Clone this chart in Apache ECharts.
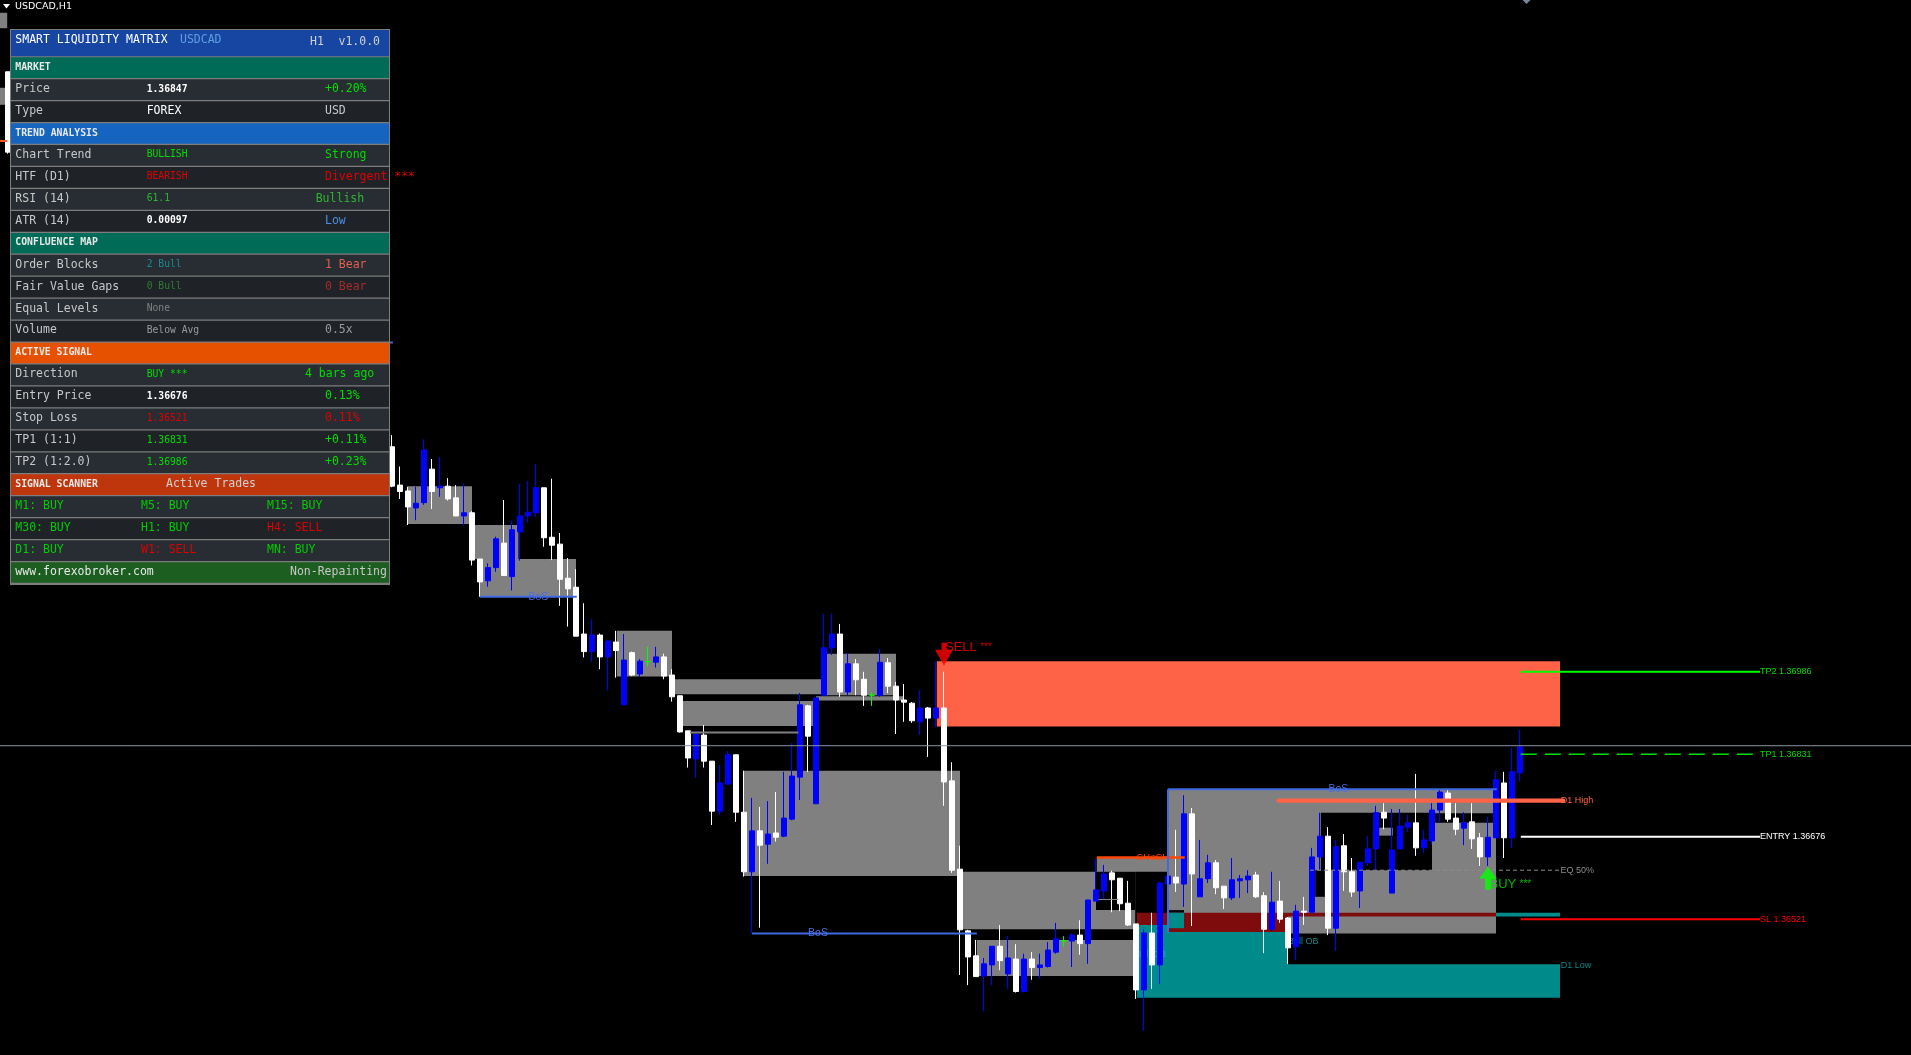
<!DOCTYPE html>
<html><head><meta charset="utf-8">
<script src="https://cdn.jsdelivr.net/npm/echarts@6/dist/echarts.min.js"></script>
<style>html,body{margin:0;padding:0;background:#000;overflow:hidden}#chart{width:1911px;height:1055px}</style>
</head><body><div id="chart"></div>
<script>
// ================= DATA =================
// H1 bars, index 0 = first bar right of the dashboard panel
const barOpen = [
1.37409,1.37337,1.37326,1.37294,1.37304,1.37367,1.37332,1.37335,1.37313,1.37279,
1.37285,1.37198,1.37157,1.37182,1.37228,1.37165,1.37249,1.37279,1.37285,1.37332,
1.37239,1.37226,1.37162,1.37145,1.37057,1.37024,1.37055,1.37014,1.37042,1.36924,
1.37022,1.36982,1.37005,1.37004,1.37014,1.36980,1.36941,1.36875,1.36822,1.36867,
1.36818,1.36724,1.36775,1.36830,1.36722,1.36610,1.36687,1.36662,1.36683,1.36677,
1.36709,1.36788,1.36922,1.36738,1.36942,1.37031,1.37057,1.36948,1.37001,1.36972,
1.36942,1.36942,1.37003,1.36959,1.36933,1.36927,1.36892,1.36918,1.36899,1.36918,
1.36781,1.36615,1.36499,1.36452,1.36414,1.36435,1.36470,1.36418,1.36446,1.36385,
1.36446,1.36430,1.36432,1.36459,1.36480,1.36480,1.36491,1.36475,1.36555,1.36574,
1.36608,1.36598,1.36551,1.36512,1.36388,1.36495,1.36435,1.36587,1.36600,1.36587,
1.36719,1.36563,1.36597,1.36627,1.36583,1.36561,1.36593,1.36595,1.36604,1.36565,
1.36502,1.36555,1.36523,1.36469,1.36536,1.36534,1.36638,1.36677,1.36504,1.36659,
1.36610,1.36574,1.36627,1.36653,1.36722,1.36570,1.36653,1.36694,1.36702,1.36655,
1.36668,1.36726,1.36758,1.36711,1.36692,1.36704,1.36674,1.36638,1.36674,1.36777,
1.36674,1.36796];
const barHigh = [
1.37431,1.37372,1.37334,1.37334,1.37423,1.37386,1.37390,1.37350,1.37337,1.37340,
1.37288,1.37198,1.37190,1.37240,1.37309,1.37270,1.37339,1.37345,1.37377,1.37332,
1.37349,1.37247,1.37200,1.37179,1.37115,1.37085,1.37058,1.37046,1.37063,1.37057,
1.37024,1.37010,1.37033,1.37033,1.37020,1.36991,1.36941,1.36875,1.36869,1.36886,
1.36818,1.36811,1.36837,1.36830,1.36800,1.36749,1.36732,1.36743,1.36760,1.36798,
1.36852,1.36946,1.36924,1.36937,1.37095,1.37095,1.37076,1.37021,1.37010,1.36986,
1.36948,1.37029,1.37012,1.36967,1.36963,1.36929,1.36952,1.36920,1.37006,1.36986,
1.36816,1.36659,1.36501,1.36482,1.36448,1.36470,1.36510,1.36489,1.36474,1.36456,
1.36459,1.36456,1.36478,1.36514,1.36489,1.36495,1.36519,1.36557,1.36634,1.36623,
1.36612,1.36598,1.36593,1.36512,1.36502,1.36533,1.36591,1.36602,1.36689,1.36754,
1.36730,1.36670,1.36642,1.36632,1.36583,1.36636,1.36604,1.36613,1.36610,1.36572,
1.36610,1.36593,1.36525,1.36548,1.36563,1.36655,1.36721,1.36694,1.36670,1.36681,
1.36636,1.36628,1.36677,1.36734,1.36739,1.36728,1.36728,1.36717,1.36794,1.36689,
1.36739,1.36764,1.36764,1.36739,1.36722,1.36739,1.36683,1.36713,1.36800,1.36798,
1.36843,1.36877];
const barLow = [
1.37333,1.37311,1.37262,1.37271,1.37300,1.37292,1.37315,1.37308,1.37279,1.37261,
1.37186,1.37127,1.37146,1.37174,1.37167,1.37139,1.37195,1.37266,1.37277,1.37221,
1.37196,1.37110,1.37071,1.37053,1.37013,1.37005,1.36991,1.36951,1.36975,1.36924,
1.36978,1.36976,1.36996,1.36994,1.36972,1.36930,1.36872,1.36806,1.36787,1.36806,
1.36698,1.36717,1.36773,1.36704,1.36601,1.36494,1.36505,1.36625,1.36667,1.36675,
1.36707,1.36745,1.36798,1.36738,1.36942,1.37018,1.36939,1.36942,1.36942,1.36922,
1.36922,1.36939,1.36946,1.36869,1.36892,1.36890,1.36867,1.36826,1.36882,1.36734,
1.36608,1.36416,1.36397,1.36413,1.36348,1.36397,1.36425,1.36390,1.36383,1.36383,
1.36407,1.36409,1.36430,1.36456,1.36469,1.36431,1.36454,1.36437,1.36555,1.36559,
1.36534,1.36536,1.36508,1.36371,1.36311,1.36390,1.36399,1.36587,1.36572,1.36544,
1.36508,1.36563,1.36589,1.36568,1.36540,1.36557,1.36561,1.36570,1.36561,1.36457,
1.36499,1.36514,1.36437,1.36444,1.36510,1.36534,1.36613,1.36491,1.36461,1.36574,
1.36563,1.36542,1.36621,1.36613,1.36690,1.36570,1.36653,1.36685,1.36640,1.36645,
1.36662,1.36702,1.36704,1.36679,1.36660,1.36653,1.36621,1.36621,1.36674,1.36636,
1.36655,1.36779];
const barClose = [
1.37335,1.37325,1.37296,1.37303,1.37403,1.37325,1.37335,1.37311,1.37279,1.37285,
1.37196,1.37155,1.37182,1.37236,1.37167,1.37253,1.37279,1.37286,1.37332,1.37238,
1.37224,1.37160,1.37142,1.37053,1.37024,1.37055,1.37014,1.37044,1.37026,1.37008,
1.36980,1.37006,1.37005,1.37014,1.36978,1.36939,1.36873,1.36824,1.36869,1.36818,
1.36724,1.36777,1.36830,1.36722,1.36610,1.36687,1.36660,1.36681,1.36675,1.36711,
1.36790,1.36924,1.36865,1.36937,1.37031,1.37057,1.36948,1.37001,1.36971,1.36942,
1.36942,1.37004,1.36959,1.36933,1.36929,1.36894,1.36918,1.36899,1.36918,1.36779,
1.36613,1.36501,1.36450,1.36413,1.36437,1.36470,1.36443,1.36448,1.36385,1.36446,
1.36430,1.36435,1.36463,1.36484,1.36480,1.36491,1.36475,1.36557,1.36576,1.36606,
1.36595,1.36550,1.36510,1.36388,1.36495,1.36435,1.36589,1.36602,1.36589,1.36719,
1.36606,1.36597,1.36627,1.36580,1.36561,1.36595,1.36597,1.36602,1.36563,1.36502,
1.36553,1.36521,1.36467,1.36536,1.36534,1.36638,1.36677,1.36504,1.36657,1.36610,
1.36572,1.36628,1.36653,1.36721,1.36711,1.36651,1.36696,1.36702,1.36655,1.36670,
1.36726,1.36760,1.36709,1.36690,1.36702,1.36672,1.36638,1.36675,1.36783,1.36674,
1.36798,1.36845];
// bar partly visible at the very left edge: [bar, open, high, low, close]
const edgeBar = [-48, 1.38114, 1.38114, 1.37960, 1.37963];
const hiddenBars = 48;      // bars behind the dashboard
const futureBars = 48;      // empty space to the right
const priceMin = 1.362656, priceMax = 1.38249;

// zones: from bar, to bar, top price, bottom price, kind
const zoneFrom   = [2,10.3,11,28.1,35.2,54.3,53,36.3,44,71,88,88.1,73.1,68.1,97,116.1,123.4,127,115.4,97,93.1,112,93.1,97,97,112,138,-49,-49];
const zoneTo     = [10,15.8,23,35,54.3,63,64,53,71,92.9,92.9,97,92.9,146,138,130,125.1,137.9,116.6,99,112,138,97,112,99,146,146,-48.1,-48.1];
const zoneTop    = [1.37335,1.37262,1.37198,1.37063,1.36972,1.37020,1.36940,1.36931,1.36800,1.36610,1.36610,1.36637,1.36482,1.37006,1.36765,1.36721,1.36693,1.36720,1.36613,1.36538,1.36533,1.36533,1.36510,1.36497,1.36533,1.36436,1.36533,1.38225,1.38084];
const zoneBottom = [1.37264,1.37198,1.37127,1.36977,1.36944,1.36942,1.36932,1.36884,1.36602,1.36502,1.36538,1.36610,1.36414,1.36883,1.36494,1.36613,1.36678,1.36702,1.36563,1.36533,1.36497,1.36526,1.36373,1.36373,1.36504,1.36373,1.36526,1.38196,1.38052];
const zoneKind   = ['ob','ob','ob','ob','ob','ob','ob','ob','ob','ob','void','ob','ob','supply','ob','void','ob','void','void','void','bear','bear','bull','bull','bull','bull','bull','ob','ob'];

// levels / structure lines: from bar, to bar, start price, end price, kind, text, text bar
const lineFrom   = [-49,-20,11,37.25,45,88.3,88.1,97,97,110.8,114.75,141.1,141.1,141.1,141.1,-49];
const lineTo     = [190,0.1,23.1,50.8,73.1,90.8,99.1,138.1,97,146.4,146,171,170.3,171,171,-48.1];
const lineP1     = [1.36847,1.37605,1.37127,1.36872,1.36494,1.36558,1.36637,1.36765,1.36765,1.36744,1.36613,1.36986,1.36831,1.36676,1.36521,1.37984];
const lineP2     = [1.36847,1.37605,1.37127,1.36872,1.36494,1.36558,1.36637,1.36765,1.36494,1.36744,1.36613,1.36986,1.36831,1.36676,1.36521,1.37984];
const lineKind   = ['price','bos','bos','mit','bos','mit1','choch','bos','bos','d1high','eq','tp2','tp1','entry','sl','orange'];
const lineText   = ['','','BoS','','BoS','','CHoCH','BoS','','D1 High','EQ 50%','TP2 1.36986','TP1 1.36831','ENTRY 1.36676','SL 1.36521',''];
const lineTextAt = [0,0,18.3,0,53.25,0,95.1,118.3,0,146.1,146.05,171,171,171,171,0];

// free labels
const noteText  = ['Bull OB','Bull OB','D1 Low'];
const noteBar   = [92.95,112,146.1];
const notePrice = [1.36455,1.36479,1.36434];
const noteKind  = ['ob1','ob2','d1low'];

// signals
const signalBar   = [69,137];
const signalPrice = [1.37019,1.36598];
const signalText  = ['SELL','BUY'];

// dashboard
const panelTitle = ['SMART LIQUIDITY MATRIX','USDCAD','H1','v1.0.0'];
const chartTitle = 'USDCAD,H1';
const panelRows = [
  ['section','MARKET'],
  ['row','Price','1.36847','+0.20%'],
  ['row','Type','FOREX','USD'],
  ['section','TREND ANALYSIS'],
  ['row','Chart Trend','BULLISH','Strong'],
  ['row','HTF (D1)','BEARISH','Divergent ***'],
  ['row','RSI (14)','61.1','Bullish'],
  ['row','ATR (14)','0.00097','Low'],
  ['section','CONFLUENCE MAP'],
  ['row','Order Blocks','2 Bull','1 Bear'],
  ['row','Fair Value Gaps','0 Bull','0 Bear'],
  ['row','Equal Levels','None',''],
  ['row','Volume','Below Avg','0.5x'],
  ['section','ACTIVE SIGNAL'],
  ['row','Direction','BUY ***','4 bars ago'],
  ['row','Entry Price','1.36676','0.13%'],
  ['row','Stop Loss','1.36521','0.11%'],
  ['row','TP1 (1:1)','1.36831','+0.11%'],
  ['row','TP2 (1:2.0)','1.36986','+0.23%'],
  ['section','SIGNAL SCANNER','Active Trades'],
  ['scan','M1: BUY','M5: BUY','M15: BUY'],
  ['scan','M30: BUY','H1: BUY','H4: SELL'],
  ['scan','D1: BUY','W1: SELL','MN: BUY'],
  ['footer','www.forexobroker.com','Non-Repainting']
];

// ================= STYLES =================
const GREEN='#00dd00', RED='#e00000', LBL='#c8c8c8';
const panelColors = [
  ['#e8e8e8'],[LBL,'#ffffff','#00e000'],[LBL,'#ffffff',LBL],['#e8e8e8'],
  [LBL,GREEN,GREEN],[LBL,RED,RED],[LBL,'#2fb52f','#2fb52f'],[LBL,'#ffffff','#4a90e2'],
  ['#e8e8e8'],[LBL,'#1a8a94','#e0604a'],[LBL,'#2e7d32','#a52a2a'],[LBL,'#808080','#808080'],
  [LBL,'#9a9a9a','#9a9a9a'],['#e8e8e8'],[LBL,GREEN,GREEN],[LBL,'#ffffff',GREEN],
  [LBL,RED,RED],[LBL,GREEN,GREEN],[LBL,GREEN,GREEN],['#e8e8e8','#d0d0d0'],
  ['#00cc00','#00cc00','#00cc00'],['#00cc00','#00cc00','#dd0000'],['#00cc00','#dd0000','#00cc00'],
  ['#e8e8e8','#c8c8c8']
];
const sectionFill = {'MARKET':'#006b57','TREND ANALYSIS':'#1565c0','CONFLUENCE MAP':'#006b57','ACTIVE SIGNAL':'#e65100','SIGNAL SCANNER':'#bf360c'};
const rightColX = {6:315.7, 14:305};
const zoneColor = {ob:'#808080', void:'#000000', supply:'#ff6347', bull:'#008b8b', bear:'#7f0c0c'};
const lineStyle = {
  price:{stroke:'#8b95a0', w:1},
  bos:{stroke:'#4169e1', w:2, text:'#4a6fe0', font:'10.5px "Liberation Sans"', align:'center'},
  mit:{stroke:'#808080', w:2},
  mit1:{stroke:'#8a8a8a', w:1},
  choch:{stroke:'#ff4500', w:2.4, text:'#ff4500', font:'9.5px "Liberation Sans"', align:'center'},
  d1high:{stroke:'#ff6347', w:4.3, cap:'round', text:'#ff6347', font:'9px "Liberation Sans"', align:'left'},
  eq:{stroke:'#8c8c8c', w:1, dash:[4,3], text:'#8c8c8c', font:'9px "Liberation Sans"', align:'left'},
  tp2:{stroke:'#00ff00', w:2, text:'#00dd00', font:'9px "Liberation Sans"', align:'left'},
  tp1:{stroke:'#00e000', w:1.4, dash:[16,8], text:'#00dd00', font:'9px "Liberation Sans"', align:'left'},
  entry:{stroke:'#ffffff', w:2, text:'#ffffff', font:'9px "Liberation Sans"', align:'left'},
  sl:{stroke:'#ff0000', w:2, text:'#ff0000', font:'9px "Liberation Sans"', align:'left'},
  orange:{stroke:'#ff5a1f', w:2}
};
const noteStyle = {ob1:'#2e9fd0', ob2:'#0b8a8a', d1low:'#008b8b'};

// ================= BUILD =================
const barLabels = [];
for (let b = -hiddenBars; b < barOpen.length + futureBars; b++) barLabels.push(String(b));
const candleData = barLabels.map((lbl) => {
  const b = Number(lbl);
  if (b >= 0 && b < barOpen.length) return [barOpen[b], barClose[b], barLow[b], barHigh[b]];
  if (b === edgeBar[0]) return [edgeBar[1], edgeBar[4], edgeBar[3], edgeBar[2]];
  return ['-','-','-','-'];
});

const MONO = '"DejaVu Sans Mono", monospace';
const big = '11.5px ' + MONO, small = '9.7px ' + MONO;
const g = [];
g.push({type:'rect', z:100, shape:{x:10,y:29,width:380,height:556}, style:{fill:'#7d7d7d'}});
g.push({type:'rect', z:101, shape:{x:11,y:30,width:378,height:26.3}, style:{fill:'#1746a2'}});
g.push({type:'text', z:102, x:15.3, y:39.8, style:{text:panelTitle[0], fill:'#ffffff', font:big, verticalAlign:'middle'}});
g.push({type:'text', z:102, x:180, y:39.8, style:{text:panelTitle[1], fill:'#5e9ee0', font:big, verticalAlign:'middle'}});
g.push({type:'text', z:102, x:310, y:42, style:{text:panelTitle[2], fill:'#d0d0d0', font:big, verticalAlign:'middle'}});
g.push({type:'text', z:102, x:338.5, y:42, style:{text:panelTitle[3], fill:'#d0d0d0', font:big, verticalAlign:'middle'}});
let shade = 0;
panelRows.forEach((row, r) => {
  const top = 57.3 + r * 21.95;
  const kind = row[0];
  let fill;
  if (kind === 'section') { fill = sectionFill[row[1]]; shade = 0; }
  else if (kind === 'footer') fill = '#1b5e20';
  else { fill = (shade % 2 === 0) ? '#272d33' : '#1f2328'; shade++; }
  g.push({type:'rect', z:101, shape:{x:11, y:top, width:378, height:20.7}, style:{fill:fill}});
  const cy = top + 9.8;
  const col = panelColors[r];
  const txt = (x, t, c, f) => { if (t) g.push({type:'text', z:102, x:x, y:cy, style:{text:t, fill:c, font:f, verticalAlign:'middle'}}); };
  if (kind === 'section') {
    txt(15.3, row[1], col[0], 'bold 9.8px ' + MONO);
    if (row[2]) txt(166, row[2], col[1], big);
  } else if (kind === 'row') {
    txt(15.3, row[1], col[0], big);
    const isBig = (row[2] === 'FOREX');
    const bold = (!isBig && col[1] === '#ffffff') ? 'bold ' : '';
    txt(146.7, row[2], col[1], isBig ? big : bold + small);
    txt(rightColX[r] || 325, row[3], col[2], big);
  } else if (kind === 'scan') {
    txt(15.3, row[1], col[0], big); txt(141, row[2], col[1], big); txt(267, row[3], col[2], big);
  } else {
    txt(15.3, row[1], col[0], big); txt(290, row[2], col[1], big);
  }
});
// chart window title and shift marker
g.push({type:'polygon', z:100, shape:{points:[[3,4],[10,4],[6.5,8.5]]}, style:{fill:'#ffffff'}});
g.push({type:'text', z:100, x:15, y:6.5, style:{text:chartTitle, fill:'#ffffff', font:'9.5px "DejaVu Sans"', verticalAlign:'middle'}});
g.push({type:'polygon', z:100, shape:{points:[[1522.5,0],[1530.5,0],[1526.5,4]]}, style:{fill:'#778899'}});

const chart = echarts.init(document.getElementById('chart'), null, {renderer:'canvas'});
chart.setOption({
  backgroundColor:'#000000',
  animation:false,
  grid:{left:4, right:3, top:0, bottom:0},
  xAxis:[
    {type:'category', data:barLabels, boundaryGap:true, show:false},
    {type:'value', min:-hiddenBars-0.5, max:barOpen.length+futureBars-0.5, show:false}
  ],
  yAxis:[{type:'value', min:priceMin, max:priceMax, show:false, scale:true}],
  series:[
    {
      type:'custom', name:'zones', xAxisIndex:1, yAxisIndex:0, z:1, silent:true, clip:false,
      encode:{x:0, y:2},
      data: zoneFrom.map((v,k) => [zoneFrom[k], zoneTo[k], zoneTop[k], zoneBottom[k]]),
      renderItem:(params, api) => {
        const k = params.dataIndex;
        const a = api.coord([zoneFrom[k], zoneTop[k]]);
        const b = api.coord([zoneTo[k], zoneBottom[k]]);
        return {type:'rect', shape:{x:a[0], y:a[1], width:b[0]-a[0], height:b[1]-a[1]}, style:{fill:zoneColor[zoneKind[k]]}};
      }
    },
    {
      type:'custom', name:'notes', xAxisIndex:1, yAxisIndex:0, z:1, silent:true, clip:false,
      encode:{x:0, y:1},
      data: noteBar.map((v,k) => [noteBar[k], notePrice[k]]),
      renderItem:(params, api) => {
        const k = params.dataIndex;
        const p = api.coord([noteBar[k], notePrice[k]]);
        return {type:'text', x:p[0], y:p[1], style:{text:noteText[k], fill:noteStyle[noteKind[k]], font:'9px "Liberation Sans"', align:'left', verticalAlign:'middle'}};
      }
    },
    {
      type:'candlestick', name:'USDCAD', xAxisIndex:0, yAxisIndex:0, z:2, barWidth:5,
      itemStyle:{color:'#0000ff', color0:'#ffffff', borderColor:'#0000ff', borderColor0:'#ffffff', borderColorDoji:'#00ff00', borderWidth:1},
      data:candleData
    },
    {
      type:'custom', name:'levels', xAxisIndex:1, yAxisIndex:0, z:3, silent:true, clip:false,
      encode:{x:0, y:1},
      data: lineFrom.map((v,k) => [lineFrom[k], lineP1[k]]),
      renderItem:(params, api) => {
        const k = params.dataIndex;
        const st = lineStyle[lineKind[k]];
        const a = api.coord([lineFrom[k], lineP1[k]]);
        const b = api.coord([lineTo[k], lineP2[k]]);
        const ch = [{type:'line', shape:{x1:a[0], y1:a[1], x2:b[0], y2:b[1]},
          style:{stroke:st.stroke, lineWidth:st.w, lineDash:st.dash || null, lineCap:st.cap || 'butt'}}];
        if (lineText[k]) {
          const t = api.coord([lineTextAt[k], lineP1[k]]);
          ch.push({type:'text', x:t[0], y:t[1], style:{text:lineText[k], fill:st.text, font:st.font, align:st.align, verticalAlign:'middle'}});
        }
        return {type:'group', children:ch};
      }
    },
    {
      type:'scatter', name:'signals', xAxisIndex:1, yAxisIndex:0, z:4, silent:true,
      data:[
        {value:[signalBar[0], signalPrice[0]], symbol:'path://M6.5,0 L11.5,0 L11.5,7 L18,7 L9,23 L0,7 L6.5,7 Z', symbolSize:[18,23],
         itemStyle:{color:'#ff0000'},
         label:{show:true, position:[10,-2], align:'left', verticalAlign:'top', formatter:'{a|' + signalText[0] + '} {b|***}',
           rich:{a:{fontSize:13, color:'#ff0000', fontFamily:'Liberation Sans'}, b:{fontSize:10, color:'#ff0000', fontFamily:'Liberation Sans'}}}},
        {value:[signalBar[1], signalPrice[1]], symbol:'path://M9,0 L18,12 L12,12 L12,23 L6,23 L6,12 L0,12 Z', symbolSize:[18,23],
         itemStyle:{color:'#00ff00'},
         label:{show:true, position:[10.5,11], align:'left', verticalAlign:'top', formatter:'{a|' + signalText[1] + '} {b|***}',
           rich:{a:{fontSize:13, color:'#00e600', fontFamily:'Liberation Sans'}, b:{fontSize:10, color:'#00e600', fontFamily:'Liberation Sans'}}}}
      ]
    }
  ],
  graphic:{elements:g}
});
</script>
</body></html>
